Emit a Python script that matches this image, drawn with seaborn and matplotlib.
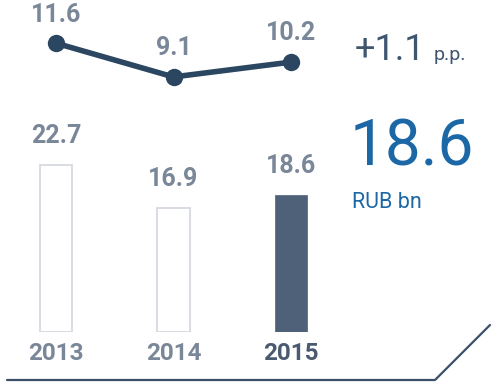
import matplotlib
matplotlib.use("Agg")
import matplotlib.pyplot as plt
import seaborn as sns
import pandas as pd

years = ["2013", "2014", "2015"]
amounts = [22.7, 16.9, 18.6]      # RUB bn (bars)
rates = [11.6, 9.1, 10.2]         # line values
headline_value = "18.6"
headline_unit = "RUB bn"
change_value = "+1.1"
change_unit = "p.p."

sns.set_theme(style="white")
plt.rcParams["font.family"] = ["Roboto", "DejaVu Sans"]

W, H = 501, 387
fig = plt.figure(figsize=(W / 100, H / 100), dpi=100)

grey_txt = "#7a8799"
dark_txt = "#4a5a70"
blue = "#1c68a6"
line_col = "#2b4660"
bar_dark = "#4f6178"
bar_edge = "#d6dae1"

px = 117.5
left = 56 - 0.45 * px
bar_ax = fig.add_axes([left / W, 55 / H, 3 * px / W, 200 / H])
line_ax = fig.add_axes([left / W, 267 / H, 3 * px / W, 120 / H])

df = pd.DataFrame({"year": years, "amount": amounts, "rate": rates})

sns.barplot(data=df, x="year", y="amount", hue="year", order=years,
            palette=["white", "white", bar_dark], legend=False,
            width=0.28, ax=bar_ax, saturation=1)
for i, p in enumerate(bar_ax.patches):
    if i < 2:
        p.set_edgecolor(bar_edge)
        p.set_linewidth(1.3)
    else:
        p.set_edgecolor(bar_dark)
        p.set_linewidth(0.5)
bar_ax.set_xlim(-0.45, 2.55)
bar_ax.set_ylim(0, 200 / 7.36)
for i, v in enumerate(amounts):
    bar_ax.annotate(f"{v:.1f}", (i, v), xytext=(0, 12), textcoords="offset points",
                    ha="center", va="bottom", fontsize=18, fontweight="bold",
                    color=grey_txt)
bar_ax.axis("off")

xpos = list(range(len(years)))
sns.lineplot(x=xpos, y=rates, ax=line_ax, color=line_col, linewidth=4,
             marker="o", markersize=12.5, markeredgewidth=0)
line_ax.set_xlim(-0.45, 2.55)
line_ax.set_ylim(5.91, 14.8)
for i, v in enumerate(rates):
    line_ax.annotate(f"{v:.1f}", (i, v), xytext=(0, 12), textcoords="offset points",
                     ha="center", va="bottom", fontsize=18, fontweight="bold",
                     color=grey_txt)
line_ax.axis("off")

# year labels
for i, y in enumerate(years):
    fig.text((left + (i + 0.45) * px) / W, 1 - 353 / H, y, ha="center", va="center",
             fontsize=17.5, fontweight="bold",
             color=dark_txt if i == 2 else grey_txt)

# right side texts
fig.text(355 / W, 1 - 50 / H, change_value, ha="left", va="center",
         fontsize=26, fontweight="normal", color="#3f5670")
fig.text(434 / W, 1 - 55 / H, change_unit, ha="left", va="center",
         fontsize=14, fontweight="normal", color="#3f5670")
fig.text(350 / W, 1 - 148 / H, headline_value, ha="left", va="center",
         fontsize=46, fontweight="normal", color=blue)
fig.text(352 / W, 1 - 202 / H, headline_unit, ha="left", va="center",
         fontsize=15.5, fontweight="normal", color=blue)

# bottom baseline with diagonal
fig.add_artist(plt.Line2D([7 / W, 435 / W, 490 / W],
                          [1 - 380 / H, 1 - 380 / H, 1 - 325 / H],
                          color="#3a5068", linewidth=1.6))

fig.savefig("out.png", dpi=100)
